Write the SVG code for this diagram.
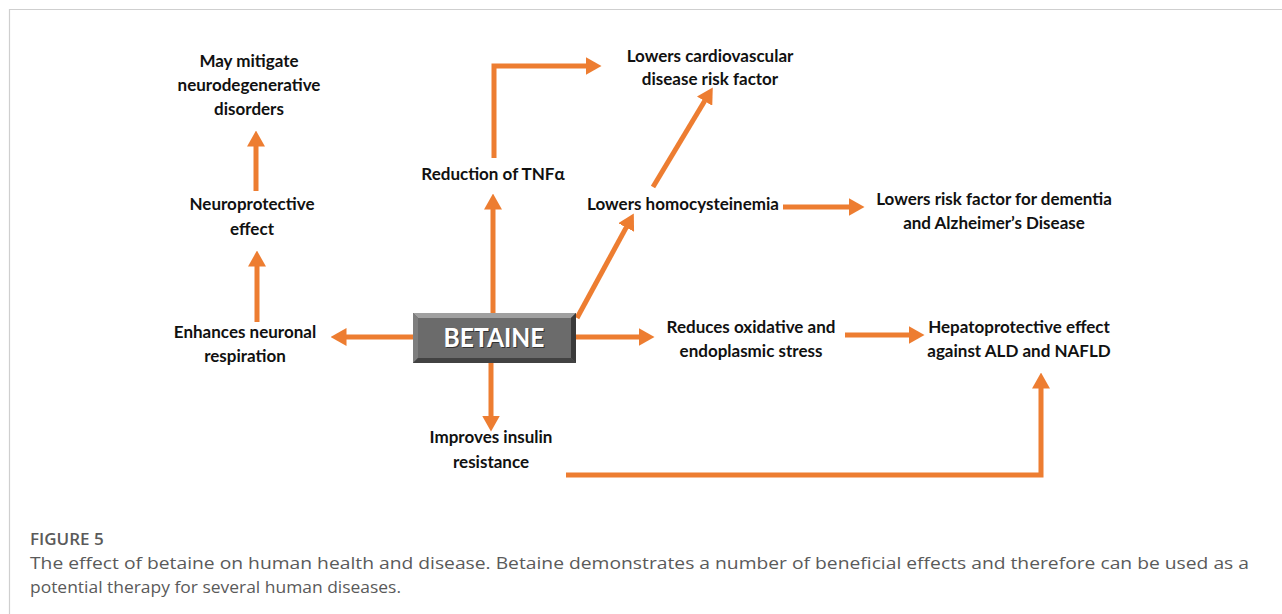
<svg xmlns="http://www.w3.org/2000/svg" width="1282" height="614" viewBox="0 0 1282 614">
<defs>
<marker id="ah" markerUnits="userSpaceOnUse" markerWidth="16" markerHeight="18" viewBox="0 0 16 18" refX="0.5" refY="9" orient="auto">
<path d="M0,0 L16,9 L0,18 z" fill="#ED7D31"/>
</marker>
</defs>
<style>
.c{fill:none;stroke:#ED7D31;stroke-width:5;marker-end:url(#ah)}
.t{font-family:Lato,"Liberation Sans",sans-serif;font-weight:bold;font-size:17px;fill:#111;text-anchor:middle}
.cap{font-family:"Open Sans","Liberation Sans",sans-serif;fill:#5a5a5a;font-size:17px}
</style>
<rect width="1282" height="614" fill="#fff"/>
<path d="M9.5,614 V9.5 H1282" fill="none" stroke="#cfcfcf" stroke-width="1.2"/>

<g id="connectors">
<path class="c" d="M493,313 V209"/>
<path class="c" d="M494,158 V66 H586"/>
<path class="c" d="M577,318 L626.4,227.1"/>
<path class="c" d="M653,187 L704.8,100.7"/>
<path class="c" d="M783,207 H849"/>
<path class="c" d="M413,337 H346"/>
<path class="c" d="M257,322 V266"/>
<path class="c" d="M256,191 V146"/>
<path class="c" d="M576,337 H639"/>
<path class="c" d="M845,335 H909"/>
<path class="c" d="M491,363 V416"/>
<path class="c" d="M566,475 H1041 V388"/>
</g>

<g id="betaine">
<rect x="413" y="313" width="163" height="50" fill="#5a5a5a"/>
<polygon points="413,313 576,313 571,318 418,318" fill="#a0a0a0"/>
<polygon points="413,313 418,318 418,358 413,363" fill="#7e7e7e"/>
<polygon points="576,313 576,363 571,358 571,318" fill="#3a3a3a"/>
<polygon points="413,363 576,363 571,358 418,358" fill="#424242"/>
<rect x="418" y="318" width="153" height="40" fill="#6b6b6b"/>
<text x="495" y="348" text-anchor="middle" font-family="Lato,'Liberation Sans',sans-serif" font-weight="bold" font-size="27" fill="#333" textLength="101" lengthAdjust="spacingAndGlyphs">BETAINE</text>
<text x="494" y="347" text-anchor="middle" font-family="Lato,'Liberation Sans',sans-serif" font-weight="bold" font-size="27" fill="#fff" textLength="101" lengthAdjust="spacingAndGlyphs">BETAINE</text>
</g>

<g id="neurodegenerative">
<text class="t" x="249" y="67">May mitigate</text>
<text class="t" x="249" y="91">neurodegenerative</text>
<text class="t" x="249" y="115">disorders</text>
</g>
<g id="neuroprotective">
<text class="t" x="252" y="210">Neuroprotective</text>
<text class="t" x="252" y="235">effect</text>
</g>
<g id="respiration">
<text class="t" x="245" y="338">Enhances neuronal</text>
<text class="t" x="245" y="362">respiration</text>
</g>
<g id="tnf">
<text class="t" x="493" y="180">Reduction of TNFα</text>
</g>
<g id="cardio">
<text class="t" x="710" y="62">Lowers cardiovascular</text>
<text class="t" x="710" y="85">disease risk factor</text>
</g>
<g id="homocysteinemia">
<text class="t" x="683" y="210">Lowers homocysteinemia</text>
</g>
<g id="dementia">
<text class="t" x="994" y="205">Lowers risk factor for dementia</text>
<text class="t" x="994" y="229">and Alzheimer’s Disease</text>
</g>
<g id="oxidative">
<text class="t" x="751" y="333">Reduces oxidative and</text>
<text class="t" x="751" y="357">endoplasmic stress</text>
</g>
<g id="hepato">
<text class="t" x="1019" y="333">Hepatoprotective effect</text>
<text class="t" x="1019" y="357">against ALD and NAFLD</text>
</g>
<g id="insulin">
<text class="t" x="491" y="443">Improves insulin</text>
<text class="t" x="491" y="468">resistance</text>
</g>

<g id="caption">
<text class="cap" x="30" y="545" font-weight="600" fill="#4a4a4a">FIGURE 5</text>
<text class="cap" x="30" y="569" textLength="1219" lengthAdjust="spacingAndGlyphs">The effect of betaine on human health and disease. Betaine demonstrates a number of beneficial effects and therefore can be used as a</text>
<text class="cap" x="30" y="593" textLength="371" lengthAdjust="spacingAndGlyphs">potential therapy for several human diseases.</text>
</g>
</svg>
